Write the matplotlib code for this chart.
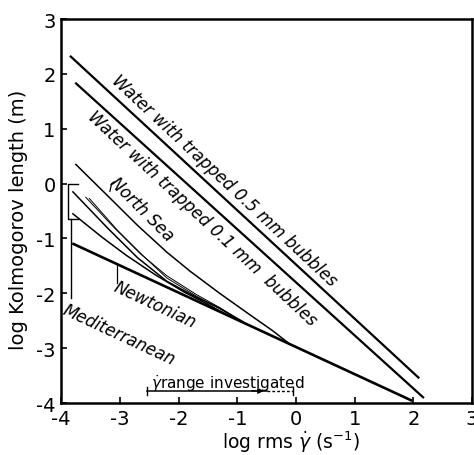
import matplotlib.pyplot as plt

plt.rcParams['font.family'] = 'DejaVu Sans'
plt.rcParams['axes.unicode_minus'] = False

# axis ticks
x_ticks = [-4, -3, -2, -1, 0, 1, 2, 3]
y_ticks = [-4, -3, -2, -1, 0, 1, 2, 3]

# water with trapped bubbles (straight lines)
x_bub05 = [-3.85, 2.10]
y_bub05 = [2.33, -3.55]
x_bub01 = [-3.76, 2.18]
y_bub01 = [1.84, -3.91]

# Newtonian line
x_newt = [-3.81, 1.98]
y_newt = [-1.09, -3.96]

# North Sea / Mediterranean curves
x_sea_a = [-3.75, -3.2, -2.7, -2.2, -1.8, -1.3, -0.8, -0.4, -0.1]
y_sea_a = [0.35, -0.23, -0.76, -1.25, -1.60, -2.00, -2.38, -2.68, -2.93]
x_sea_b = [-3.80, -3.2, -2.7, -2.2, -1.7, -1.3, -0.9]
y_sea_b = [-0.15, -0.82, -1.35, -1.78, -2.07, -2.27, -2.52]
x_sea_c = [-3.58, -3.1, -2.65, -2.2, -1.7, -1.3, -0.95]
y_sea_c = [-0.25, -0.80, -1.28, -1.68, -2.02, -2.26, -2.50]
x_sea_d = [-3.52, -3.05, -2.6, -2.2, -1.7, -1.3, -0.95]
y_sea_d = [-0.27, -0.84, -1.32, -1.72, -2.05, -2.28, -2.50]
x_sea_e = [-3.80, -3.3, -2.9, -2.4, -1.9, -1.5, -1.15]
y_sea_e = [-0.55, -0.98, -1.30, -1.66, -1.98, -2.20, -2.41]

# shear rate range investigated
range_solid = [-2.53, -0.50]
range_dashed = [-0.50, -0.05]
range_y = -3.78

fig = plt.figure(figsize=(4.74, 4.56), dpi=100)
ax = fig.add_axes([0.129, 0.114, 0.867, 0.842])

ax.plot(x_bub05, y_bub05, color='black', lw=1.6, solid_capstyle='butt')
ax.plot(x_bub01, y_bub01, color='black', lw=1.6, solid_capstyle='butt')
ax.plot(x_newt, y_newt, color='black', lw=1.9, solid_capstyle='butt')
ax.plot(x_sea_a, y_sea_a, color='black', lw=1.1)
ax.plot(x_sea_b, y_sea_b, color='black', lw=1.1)
ax.plot(x_sea_c, y_sea_c, color='black', lw=0.7)
ax.plot(x_sea_d, y_sea_d, color='black', lw=0.7)
ax.plot(x_sea_e, y_sea_e, color='black', lw=1.1)

# bracket and leaders
ax.plot([-3.72, -3.88, -3.88, -3.72], [0.0, 0.0, -0.64, -0.64], color='black', lw=1.0)
ax.plot([-3.83, -3.83], [-0.64, -2.09], color='black', lw=1.0)
ax.plot([-3.10, -3.14, -3.17], [0.03, 0.0, -0.14], color='black', lw=0.9)
ax.plot([-3.05, -3.05], [-1.47, -1.82], color='black', lw=0.9)

# range bar
ax.plot(range_solid, [range_y, range_y], color='black', lw=1.1)
ax.plot(range_dashed, [range_y, range_y], color='black', lw=1.0, ls=(0, (2, 1.5)))
ax.plot([range_solid[0]] * 2, [range_y - 0.08, range_y + 0.08], color='black', lw=1.0)
ax.plot([range_dashed[1]] * 2, [range_y - 0.08, range_y + 0.08], color='black', lw=1.0)
ax.annotate('', xy=(range_solid[1], range_y), xytext=(range_solid[1] - 0.3, range_y),
            arrowprops=dict(arrowstyle='-|>', color='black', lw=1.0, mutation_scale=8))

lab = dict(fontsize=12, style='italic', ha='center', va='center', rotation_mode='anchor')
ax.text(-1.23, 0.06, 'Water with trapped 0.5 mm bubbles', rotation=-43, **lab)
ax.text(-1.60, -0.62, 'Water with trapped 0.1 mm  bubbles', rotation=-43, **lab)
ax.text(-2.62, -0.45, 'North Sea', rotation=-45, **lab)
ax.text(-2.40, -2.20, 'Newtonian', rotation=-25, **lab)
ax.text(-3.01, -2.75, 'Mediterranean', rotation=-25, **lab)
ax.text(-2.47, -3.62, r'$\dot{\gamma}$range investigated', fontsize=11,
        ha='left', va='center')

ax.set_xlim(-4, 3)
ax.set_ylim(-4, 3)
ax.set_xticks(x_ticks)
ax.set_yticks(y_ticks)
ax.tick_params(direction='in', length=4, width=1.2, labelsize=14, pad=4)
for s in ax.spines.values():
    s.set_linewidth(1.8)

ax.set_xlabel(r'log rms $\dot{\gamma}$ (s$^{-1}$)', fontsize=13.5)
ax.set_ylabel('log Kolmogorov length (m)', fontsize=14)
ax.xaxis.set_label_coords(0.56, -0.067)
ax.yaxis.set_label_coords(-0.08, 0.48)

fig.savefig('out.png', dpi=100)
